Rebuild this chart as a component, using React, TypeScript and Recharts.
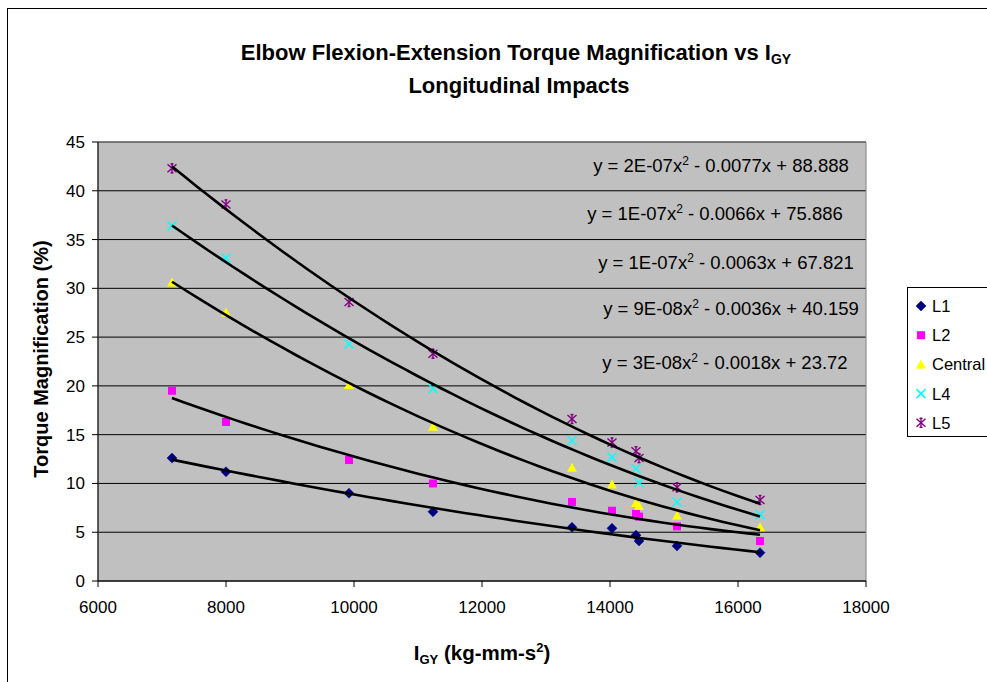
import React from 'react';
import { ScatterChart, Scatter, XAxis, YAxis, CartesianGrid, ReferenceArea, Customized } from 'recharts';

// ---- data ----
const IGY = [7156, 8000, 9922, 11234, 13406, 14031, 14406, 14453, 15047, 16344];
const L1 = [12.6, 11.2, 9.0, 7.1, 5.5, 5.4, 4.7, 4.1, 3.6, 2.9];
const L2 = [19.5, 16.3, 12.4, 10.0, 8.1, 7.2, 6.9, 6.6, 5.6, 4.1];
const CENTRAL = [30.6, 27.5, 20.1, 15.8, 11.6, 9.9, 8.0, 7.7, 6.7, 5.5];
const L4 = [36.4, 33.1, 24.3, 19.7, 14.4, 12.7, 11.5, 10.1, 8.1, 6.8];
const L5 = [42.3, 38.6, 28.6, 23.3, 16.6, 14.2, 13.3, 12.6, 9.6, 8.3];

const SERIES_NAMES = ['L1', 'L2', 'Central', 'L4', 'L5'];
const SERIES_VALUES = [L1, L2, CENTRAL, L4, L5];

// trendline equation labels, top to bottom (L5, L4, Central, L2, L1)
const EQ_LEAD = ['y = 2E-07x', 'y = 1E-07x', 'y = 1E-07x', 'y = 9E-08x', 'y = 3E-08x'];
const EQ_TAIL = [' - 0.0077x + 88.888', ' - 0.0066x + 75.886', ' - 0.0063x + 67.821', ' - 0.0036x + 40.159', ' - 0.0018x + 23.72'];

const X_TICKS = [6000, 8000, 10000, 12000, 14000, 16000, 18000];
const Y_TICKS = [0, 5, 10, 15, 20, 25, 30, 35, 40, 45];

// ---- helpers ----
type Pt = { x: number; y: number };

function toPoints(ys: number[]): Pt[] {
  return IGY.map((x, i) => ({ x, y: ys[i] }));
}

// least-squares 2nd-order polynomial trendline, as the spreadsheet draws it
function quadTrend(ys: number[]): Pt[] {
  const s = 10000;
  let n = 0, sx = 0, sx2 = 0, sx3 = 0, sx4 = 0, sy = 0, sxy = 0, sx2y = 0;
  IGY.forEach((xv, i) => {
    const u = xv / s;
    const y = ys[i];
    n += 1; sx += u; sx2 += u * u; sx3 += u * u * u; sx4 += u * u * u * u;
    sy += y; sxy += u * y; sx2y += u * u * y;
  });
  const det3 = (m: number[][]) =>
    m[0][0] * (m[1][1] * m[2][2] - m[1][2] * m[2][1]) -
    m[0][1] * (m[1][0] * m[2][2] - m[1][2] * m[2][0]) +
    m[0][2] * (m[1][0] * m[2][1] - m[1][1] * m[2][0]);
  const M = [[sx4, sx3, sx2], [sx3, sx2, sx], [sx2, sx, n]];
  const R = [sx2y, sxy, sy];
  const D = det3(M);
  const rep = (col: number) => M.map((row, r) => row.map((v, c) => (c === col ? R[r] : v)));
  const a = det3(rep(0)) / D;
  const b = det3(rep(1)) / D;
  const c = det3(rep(2)) / D;
  const xmin = Math.min(...IGY);
  const xmax = Math.max(...IGY);
  const out: Pt[] = [];
  const steps = 48;
  for (let k = 0; k <= steps; k++) {
    const xv = xmin + ((xmax - xmin) * k) / steps;
    const u = xv / s;
    out.push({ x: xv, y: a * u * u + b * u + c });
  }
  return out;
}

// ---- marker glyphs ----
const Diamond = ({ cx, cy }: any) => (
  <polygon points={`${cx},${cy - 5} ${cx + 5},${cy} ${cx},${cy + 5} ${cx - 5},${cy}`} fill="#000080" stroke="#000080" strokeWidth={0.5} />
);
const Square = ({ cx, cy }: any) => (
  <rect x={cx - 4} y={cy - 4} width={8} height={8} fill="#FF00FF" />
);
const Triangle = ({ cx, cy }: any) => (
  <polygon points={`${cx},${cy - 5} ${cx + 5},${cy + 4} ${cx - 5},${cy + 4}`} fill="#FFFF00" />
);
const Cross = ({ cx, cy }: any) => (
  <g stroke="#00FFFF" strokeWidth={1.5}>
    <line x1={cx - 4.5} y1={cy - 4.5} x2={cx + 4.5} y2={cy + 4.5} />
    <line x1={cx - 4.5} y1={cy + 4.5} x2={cx + 4.5} y2={cy - 4.5} />
  </g>
);
const Star = ({ cx, cy }: any) => (
  <g stroke="#800080" strokeWidth={1.4}>
    <line x1={cx - 4.5} y1={cy - 4} x2={cx + 4.5} y2={cy + 4} />
    <line x1={cx - 4.5} y1={cy + 4} x2={cx + 4.5} y2={cy - 4} />
    <line x1={cx} y1={cy - 5} x2={cx} y2={cy + 5} />
    <line x1={cx - 1.5} y1={cy - 4.5} x2={cx + 1.5} y2={cy - 4.5} />
    <line x1={cx - 1.5} y1={cy + 4.5} x2={cx + 1.5} y2={cy + 4.5} />
  </g>
);
const MARKERS = [Diamond, Square, Triangle, Cross, Star];
const Empty = () => <g />;

const FONT = 'Arial, "Liberation Sans", Helvetica, sans-serif';

const EQ_POS = [
  { x: 721, y: 165 },
  { x: 715, y: 213 },
  { x: 726, y: 262 },
  { x: 731, y: 308 },
  { x: 725, y: 362 },
];

const Overlay = () => (
  <g fontFamily={FONT}>
    <text x={516} y={60} textAnchor="middle" fontSize={22} fontWeight="bold" fill="#000">
      Elbow Flexion-Extension Torque Magnification vs I
      <tspan fontSize={14} dy={4}>GY</tspan>
    </text>
    <text x={519} y={93} textAnchor="middle" fontSize={22} fontWeight="bold" fill="#000">
      Longitudinal Impacts
    </text>
    {EQ_LEAD.map((lead, i) => (
      <text key={i} x={EQ_POS[i].x} y={EQ_POS[i].y + 6.5} textAnchor="middle" fontSize={18.5} fill="#000">
        {lead}
        <tspan fontSize={12} dy={-7}>2</tspan>
        <tspan dy={7}>{EQ_TAIL[i]}</tspan>
      </text>
    ))}
    <text
      x={41}
      y={359 + 7}
      transform="rotate(-90, 41, 359)"
      textAnchor="middle"
      fontSize={20}
      fontWeight="bold"
      fill="#000"
    >
      Torque Magnification (%)
    </text>
    <text x={482} y={660} textAnchor="middle" fontSize={20.5} fontWeight="bold" fill="#000">
      I<tspan fontSize={13} dy={4}>GY</tspan>
      <tspan dy={-4}> (kg-mm-s</tspan>
      <tspan fontSize={13} dy={-8}>2</tspan>
      <tspan dy={8}>)</tspan>
    </text>
    <rect x={907.5} y={287.5} width={200} height={149} fill="#FFFFFF" stroke="#000" strokeWidth={1} />
    {SERIES_NAMES.map((name, i) => {
      const M = MARKERS[i];
      const cy = 306 + i * 29.2;
      return (
        <g key={name}>
          <M cx={921} cy={cy} />
          <text x={932} y={cy + 6} fontSize={16.5} fill="#000">{name}</text>
        </g>
      );
    })}
  </g>
);

export default function App() {
  const trends = SERIES_VALUES.map((v) => quadTrend(v));
  return (
    <div style={{ position: 'fixed', left: 0, top: 0, width: 987, height: 682, overflow: 'hidden', background: '#fff' }}>
      <div style={{ position: 'absolute', left: 7, top: 8, width: 1200, height: 900, border: '1px solid #000', boxSizing: 'border-box' }} />
      <div style={{ position: 'absolute', left: 0, top: 0 }}>
        <ScatterChart width={1040} height={700} margin={{ top: 142, right: 174, bottom: 69, left: 38 }}>
          <CartesianGrid vertical={false} stroke="#000" fill="#C0C0C0" fillOpacity={1} horizontalValues={Y_TICKS} />
          <ReferenceArea x1={6000} x2={18000} y1={0} y2={45} fill="none" stroke="#808080" strokeWidth={1} ifOverflow="visible" />
          <XAxis
            type="number"
            dataKey="x"
            domain={[6000, 18000]}
            ticks={X_TICKS}
            height={50}
            tickSize={6}
            tickMargin={14}
            stroke="#000"
            tick={{ fill: '#000', fontSize: 17, fontFamily: FONT }}
            allowDataOverflow
          />
          <YAxis
            type="number"
            dataKey="y"
            domain={[0, 45]}
            ticks={Y_TICKS}
            width={60}
            tickSize={6}
            tickMargin={7}
            stroke="#000"
            tick={{ fill: '#000', fontSize: 17, fontFamily: FONT }}
            allowDataOverflow
          />
          {SERIES_VALUES.map((vals, i) => {
            const M = MARKERS[i];
            return (
              <Scatter
                key={SERIES_NAMES[i]}
                name={SERIES_NAMES[i]}
                data={toPoints(vals)}
                shape={(p: any) => <M cx={p.cx} cy={p.cy} />}
                isAnimationActive={false}
              />
            );
          })}
          {trends.map((t, i) => (
            <Scatter
              key={'trend-' + SERIES_NAMES[i]}
              name={'trend ' + SERIES_NAMES[i]}
              data={t}
              line={{ stroke: '#000', strokeWidth: 2.6 }}
              shape={Empty}
              legendType="none"
              isAnimationActive={false}
            />
          ))}
          <Customized component={Overlay} />
        </ScatterChart>
      </div>
    </div>
  );
}
